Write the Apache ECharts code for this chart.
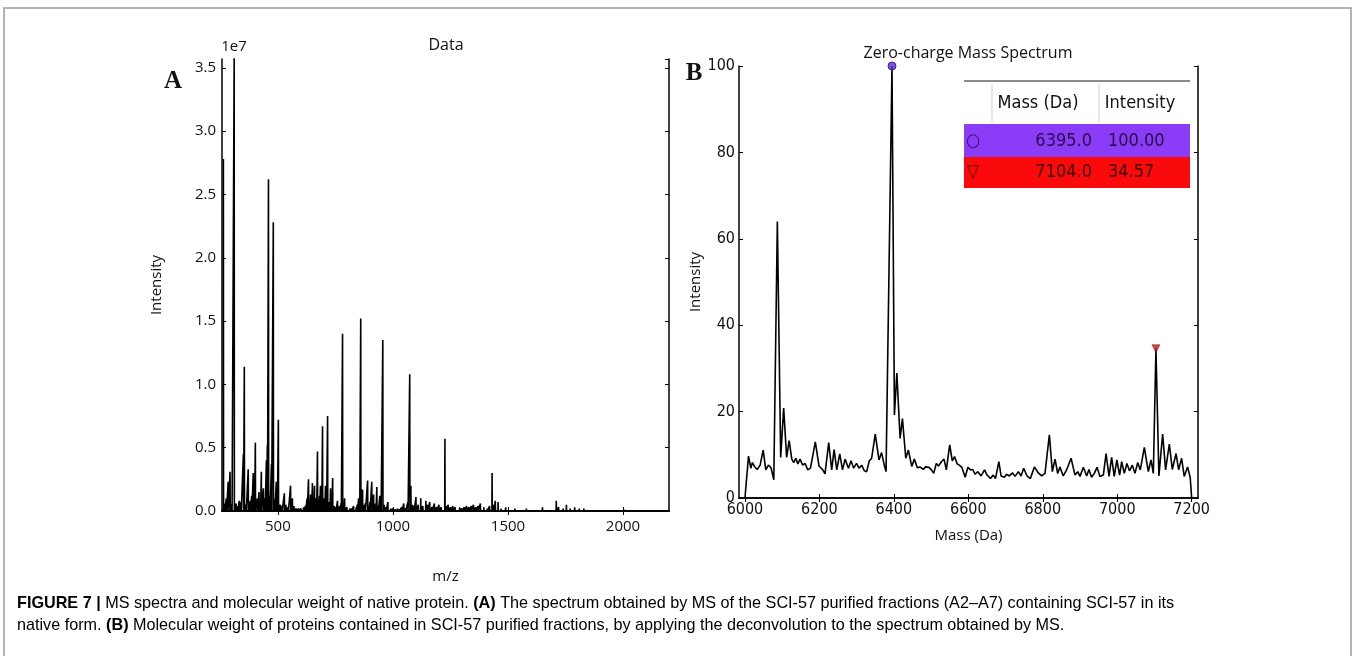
<!DOCTYPE html>
<html lang="en">
<head>
  <meta charset="UTF-8">
  <title>MS spectra</title>
  <script src="https://cdn.jsdelivr.net/npm/echarts@6/dist/echarts.min.js"></script>
  <style>
    html, body { margin: 0; padding: 0; background: #fff; }
    #main { width: 1355px; height: 656px; }
  </style>
</head>
<body>
  <div id="main"></div>
  <script>
    // panel A: m/z peaks (intensity in units of 1e7)
    var peaksA = [
      [263, 2.78], [284, 0.23], [292, 0.31], [310, 3.6], [332, 0.08], [350, 0.45], [354, 1.14],
      [371, 0.33], [393, 0.30], [402, 0.54], [411, 0.10], [428, 0.31], [437, 0.18], [450, 0.40],
      [454, 0.52], [459, 2.62], [472, 0.37], [480, 2.28], [493, 0.23], [502, 0.72], [528, 0.14],
      [555, 0.20], [563, 0.10], [611, 0.03], [633, 0.25], [642, 0.13], [650, 0.22], [659, 0.20],
      [672, 0.47], [685, 0.20], [694, 0.67], [707, 0.20], [716, 0.75], [729, 0.18], [738, 0.26],
      [759, 0.08], [781, 1.40], [790, 0.10], [829, 0.04], [851, 0.10], [860, 1.52], [868, 0.17],
      [890, 0.24], [908, 0.23], [916, 0.13], [930, 0.19], [943, 0.12], [956, 1.35], [978, 0.07],
      [1039, 0.03], [1047, 0.06], [1065, 0.07], [1073, 1.08], [1078, 0.20], [1100, 0.11],
      [1121, 0.10], [1143, 0.08], [1160, 0.07], [1180, 0.06], [1200, 0.05], [1226, 0.57],
      [1240, 0.05], [1260, 0.04], [1290, 0.03], [1320, 0.04], [1350, 0.05], [1380, 0.06],
      [1431, 0.30], [1445, 0.08], [1457, 0.07], [1490, 0.03], [1530, 0.02], [1580, 0.02],
      [1650, 0.03], [1710, 0.08], [1754, 0.05], [1790, 0.03], [1830, 0.02], [1900, 0.01], [2007, 0.01]
    ]
    // small peaks along the baseline
    var grassA = [
      [268, 0.06], [276, 0.1], [300, 0.05], [318, 0.06], [325, 0.04], [340, 0.07], [362, 0.05],
      [380, 0.08], [386, 0.12], [398, 0.06], [418, 0.15], [424, 0.08], [444, 0.1], [465, 0.12],
      [486, 0.09], [497, 0.1], [510, 0.05], [518, 0.04], [535, 0.05], [545, 0.03], [570, 0.04],
      [580, 0.02], [590, 0.02], [600, 0.02], [620, 0.04], [627, 0.1], [638, 0.07], [646, 0.09],
      [655, 0.08], [664, 0.1], [668, 0.06], [677, 0.09], [681, 0.12], [690, 0.08], [699, 0.1],
      [703, 0.07], [711, 0.09], [720, 0.07], [725, 0.05], [734, 0.06], [745, 0.04], [752, 0.03],
      [768, 0.04], [775, 0.06], [786, 0.05], [800, 0.03], [812, 0.02], [820, 0.02], [840, 0.03],
      [845, 0.05], [855, 0.06], [875, 0.05], [880, 0.06], [895, 0.04], [900, 0.07], [912, 0.05],
      [920, 0.06], [926, 0.05], [936, 0.04], [948, 0.05], [962, 0.05], [970, 0.03], [990, 0.02],
      [1000, 0.02], [1010, 0.01], [1020, 0.02], [1030, 0.01], [1055, 0.02], [1085, 0.05],
      [1092, 0.04], [1110, 0.05], [1130, 0.04], [1150, 0.05], [1170, 0.03], [1190, 0.03],
      [1210, 0.03], [1232, 0.04], [1250, 0.03], [1270, 0.03], [1300, 0.02], [1310, 0.03],
      [1330, 0.03], [1340, 0.04], [1360, 0.03], [1370, 0.04], [1395, 0.03], [1410, 0.02],
      [1420, 0.04], [1438, 0.05], [1470, 0.02], [1510, 0.01], [1560, 0.01], [1620, 0.01],
      [1680, 0.01], [1720, 0.03], [1740, 0.02], [1770, 0.02], [1810, 0.02], [1860, 0.01]
    ]
    var ticksA = [500, 1000, 1500, 2000]

    // panel B: zero-charge mass spectrum
    var massB = [6000, 6009.5, 6015.8, 6020, 6025.6, 6032.8, 6040.8, 6048.9, 6056, 6063, 6070, 6077.5,
      6087, 6096, 6104, 6112, 6118.7, 6125.8, 6131, 6136.6, 6142, 6148, 6155, 6161.6, 6168.8, 6176,
      6189, 6199, 6209, 6215, 6225, 6233, 6239.5, 6246.7, 6254.7, 6262, 6269, 6278, 6285, 6292,
      6299.6, 6306.6, 6313.5, 6320.6, 6327, 6334, 6340.3, 6350, 6360, 6367, 6374.3, 6379, 6395,
      6401.5, 6408, 6416.8, 6423, 6432, 6439, 6448, 6455, 6463, 6470, 6479, 6485, 6494, 6501, 6507,
      6514, 6520, 6527.6, 6534.7, 6541, 6550, 6557, 6563, 6570, 6576, 6582.6, 6591.6, 6598.7, 6606,
      6612, 6618, 6625.6, 6634.5, 6643.5, 6650.6, 6659.6, 6666.7, 6673, 6682, 6688, 6697, 6703, 6710,
      6719, 6725.6, 6734.5, 6741.7, 6748.8, 6757.7, 6766.7, 6777.4, 6788, 6797, 6806, 6817.7, 6825.7,
      6833, 6840, 6846, 6855, 6864, 6876, 6886.6, 6894, 6900, 6909, 6918, 6924, 6931, 6938.5, 6945.7,
      6953.7, 6962.7, 6970, 6978, 6985, 6992, 6999, 7006.5, 7012, 7019, 7026, 7033, 7040.5, 7047.7,
      7055, 7062, 7072.8, 7083.5, 7090.7, 7097, 7104, 7112, 7122, 7130, 7140, 7148, 7158, 7165, 7173,
      7180, 7189, 7196, 7200]
    var intB = [0, 9.7, 6.9, 8.2, 7.3, 6.6, 7.6, 11.1, 6.5, 7.6, 7.0, 4.2,
      64, 9.4, 20.8, 9.4, 13.3, 9.0, 8.2, 9.2, 7.9, 9.0, 7.6, 8.0, 6.5, 6.9,
      13.0, 7.4, 6.5, 5.6, 12.8, 6.5, 11.2, 6.5, 10.2, 6.5, 9.0, 6.9, 8.6, 6.9,
      8.0, 6.9, 7.6, 6.3, 6.1, 8.6, 9.2, 14.8, 8.8, 10.5, 7.6, 6.1, 100,
      19.2, 28.9, 13.8, 18.4, 9.2, 11.1, 7.3, 9.0, 7.0, 7.2, 6.6, 7.2, 7.1, 6.5, 5.7,
      8.0, 7.4, 8.4, 9.0, 6.5, 12.3, 8.6, 9.6, 7.9, 7.6, 7.1, 4.8, 7.1, 6.5,
      6.6, 5.5, 6.1, 5.1, 6.5, 5.3, 4.5, 5.3, 4.5, 8.4, 5.1, 4.8, 5.5, 5.1,
      5.8, 5.0, 6.1, 5.1, 6.9, 5.1, 4.5, 7.2, 5.8, 5.1, 5.7, 14.6, 6.1,
      9.0, 5.7, 7.2, 5.1, 6.5, 9.2, 5.3, 6.1, 5.0, 7.1, 5.1, 6.6, 4.8, 5.7, 7.1,
      5.0, 5.3, 10.3, 5.0, 9.4, 5.0, 8.8, 5.3, 8.4, 5.7, 8.0, 6.3, 7.6, 5.7,
      8.2, 6.5, 11.7, 6.1, 8.8, 5.7, 34.57, 5.1, 14.8, 6.5, 12.5, 6.6, 10.3, 6.5, 9.2,
      5.0, 7.2, 4.8, 0]
    var ticksB = [6000, 6200, 6400, 6600, 6800, 7000, 7200]
    // picked peaks shown in the table
    var markMass = [6395.0, 7104.0]
    var markInt = [100.00, 34.57]

    var mCharts = echarts.init(document.getElementById('main'), null, { renderer: 'canvas' })

    // sticks: each peak goes up from 0 and back down
    var stickData = []
    peaksA.concat(grassA).sort(function (a, b) { return a[0] - b[0] }).forEach(function (p) {
      stickData.push([p[0] - 0.8, 0], [p[0], p[1]], [p[0] + 0.8, 0])
    })
    var lineB = massB.map(function (m, i) { return [m, intB[i]] })

    var plain = function (v) { return String(v) }
    var tickFont = { fontFamily: 'Open Sans', fontSize: 15, color: '#111' }
    var nameFont = { fontFamily: 'Open Sans', fontSize: 15, color: '#111' }
    var narrowFont = { fontFamily: "'Liberation Sans Narrow', 'DejaVu Sans Condensed', 'Liberation Sans'", fontSize: 16, color: '#111' }
    var spine = { show: true, lineStyle: { color: '#000', width: 1.5 } }
    var inTick = { show: true, inside: true, length: 4, lineStyle: { color: '#000', width: 1 } }

    function cell(x, y, t, color, align) {
      return {
        type: 'text', x: x, y: y,
        style: { text: t, fill: color, font: "18px 'Liberation Sans Narrow', 'DejaVu Sans Condensed', 'Liberation Sans'", align: align || 'left', verticalAlign: 'middle' }
      }
    }

    var capFont = { fontFamily: 'Liberation Sans', fontSize: 16.2, color: '#3a3a3a', lineHeight: 22 }
    var capBold = { fontFamily: 'Liberation Sans', fontSize: 16.2, fontWeight: 'bold', color: '#1a1a1a', lineHeight: 22 }

    var option = {
      animation: false,
      backgroundColor: '#fff',
      grid: [
        { left: 222, top: 59, width: 447, height: 452, outerBoundsMode: 'none' },
        { left: 739, top: 66, width: 459, height: 432, outerBoundsMode: 'none' }
      ],
      xAxis: [
        {
          type: 'value', gridIndex: 0, min: 257, max: 2200, position: 'bottom',
          name: 'm/z', nameLocation: 'middle', nameGap: 58, nameTextStyle: nameFont,
          axisLine: { show: true, lineStyle: { color: '#000', width: 2 } },
          axisTick: Object.assign({ customValues: ticksA }, inTick),
          axisLabel: Object.assign({ customValues: ticksA, margin: 8, formatter: plain }, tickFont),
          splitLine: { show: false }
        },
        {
          type: 'value', gridIndex: 0, min: 257, max: 2200, position: 'top',
          axisLine: spine, axisTick: Object.assign({ customValues: ticksA }, inTick),
          axisLabel: { show: false }, splitLine: { show: false }
        },
        {
          type: 'value', gridIndex: 1, min: 5984, max: 7217, position: 'bottom',
          name: 'Mass (Da)', nameLocation: 'middle', nameGap: 30, nameTextStyle: nameFont,
          axisLine: spine, axisTick: Object.assign({ customValues: ticksB }, inTick),
          axisLabel: Object.assign({ customValues: ticksB, margin: 4, formatter: plain }, narrowFont),
          splitLine: { show: false }
        },
        {
          type: 'value', gridIndex: 1, min: 5984, max: 7217, position: 'top',
          axisLine: spine, axisTick: Object.assign({ customValues: ticksB }, inTick),
          axisLabel: { show: false }, splitLine: { show: false }
        }
      ],
      yAxis: [
        {
          type: 'value', gridIndex: 0, min: 0, max: 3.57, interval: 0.5, position: 'left',
          name: 'Intensity', nameLocation: 'middle', nameGap: 58, nameTextStyle: nameFont,
          axisLine: spine, axisTick: inTick,
          axisLabel: Object.assign({ formatter: function (v) { return v.toFixed(1) }, margin: 6 }, tickFont),
          splitLine: { show: false }
        },
        {
          type: 'value', gridIndex: 0, min: 0, max: 3.57, interval: 0.5, position: 'right',
          axisLine: spine, axisTick: inTick, axisLabel: { show: false }, splitLine: { show: false }
        },
        {
          type: 'value', gridIndex: 1, min: 0, max: 100, interval: 20, position: 'left',
          name: 'Intensity', nameLocation: 'middle', nameGap: 30, nameTextStyle: nameFont,
          axisLine: spine, axisTick: inTick,
          axisLabel: Object.assign({ margin: 4 }, narrowFont),
          splitLine: { show: false }
        },
        {
          type: 'value', gridIndex: 1, min: 0, max: 100, interval: 20, position: 'right',
          axisLine: spine, axisTick: inTick, axisLabel: { show: false }, splitLine: { show: false }
        }
      ],
      series: [
        {
          type: 'line', xAxisIndex: 0, yAxisIndex: 0, data: stickData,
          showSymbol: false, lineStyle: { color: '#000', width: 1.6 }
        },
        {
          type: 'line', xAxisIndex: 2, yAxisIndex: 2, data: lineB,
          showSymbol: false, lineStyle: { color: '#000', width: 1.6 }
        },
        {
          type: 'scatter', xAxisIndex: 2, yAxisIndex: 2, z: 5,
          data: [
            { value: [markMass[0], markInt[0]], symbol: 'circle', symbolSize: 8, itemStyle: { color: '#5a2bd6', borderColor: '#2a1070', borderWidth: 1 } },
            { value: [markMass[1], markInt[1]], symbol: 'triangle', symbolRotate: 180, symbolSize: 8, itemStyle: { color: '#c8101c', borderColor: '#700000', borderWidth: 0.5 } }
          ]
        }
      ],
      graphic: [
        // figure frame
        { type: 'polyline', shape: { points: [[4, 660], [4, 8], [1351, 8], [1351, 660]] }, style: { stroke: '#9a9a9a', lineWidth: 1.5, fill: null } },
        // panel letters and titles
        { type: 'text', x: 173, y: 82, style: { text: 'A', font: "bold 25px 'Liberation Serif'", fill: '#111', align: 'center', verticalAlign: 'middle' } },
        { type: 'text', x: 694, y: 74, style: { text: 'B', font: "bold 25px 'Liberation Serif'", fill: '#111', align: 'center', verticalAlign: 'middle' } },
        { type: 'text', x: 234, y: 47, style: { text: '1e7', font: "15px 'Open Sans'", fill: '#111', align: 'center', verticalAlign: 'middle' } },
        { type: 'text', x: 446, y: 45, style: { text: 'Data', font: "16px 'Open Sans'", fill: '#111', align: 'center', verticalAlign: 'middle' } },
        { type: 'text', x: 968, y: 53, style: { text: 'Zero-charge Mass Spectrum', font: "16px 'Open Sans'", fill: '#111', align: 'center', verticalAlign: 'middle' } },
        // peak table
        { type: 'line', shape: { x1: 964, y1: 81, x2: 1190, y2: 81 }, style: { stroke: '#8a8a8a', lineWidth: 2 } },
        { type: 'line', shape: { x1: 992, y1: 84, x2: 992, y2: 122 }, style: { stroke: '#cfcfcf', lineWidth: 1 } },
        { type: 'line', shape: { x1: 1099, y1: 84, x2: 1099, y2: 122 }, style: { stroke: '#cfcfcf', lineWidth: 1 } },
        cell(1038, 103, 'Mass (Da)', '#111', 'center'),
        cell(1140, 103, 'Intensity', '#111', 'center'),
        { type: 'rect', shape: { x: 964, y: 124, width: 226, height: 33 }, style: { fill: '#8b3cf7' } },
        { type: 'rect', shape: { x: 964, y: 157, width: 226, height: 31 }, style: { fill: '#fa0a0a' } },
        cell(973, 141, '○', '#3a1070', 'center'),
        cell(1092, 141, markMass[0].toFixed(1), '#2a0a48', 'right'),
        cell(1108, 141, markInt[0].toFixed(2), '#2a0a48', 'left'),
        cell(973, 172, '▽', '#6a0000', 'center'),
        cell(1092, 172, markMass[1].toFixed(1), '#3a0000', 'right'),
        cell(1108, 172, markInt[1].toFixed(2), '#3a0000', 'left'),
        // caption
        {
          type: 'text', x: 17, y: 604,
          style: {
            text: '{b|FIGURE 7 |}{n| MS spectra and molecular weight of native protein. }{b|(A)}{n| The spectrum obtained by MS of the SCI-57 purified fractions (A2–A7) containing SCI-57 in its}',
            verticalAlign: 'middle', rich: { b: capBold, n: capFont }
          }
        },
        {
          type: 'text', x: 17, y: 626,
          style: {
            text: '{n|native form. }{b|(B)}{n| Molecular weight of proteins contained in SCI-57 purified fractions, by applying the deconvolution to the spectrum obtained by MS.}',
            verticalAlign: 'middle', rich: { b: capBold, n: capFont }
          }
        }
      ]
    }
    mCharts.setOption(option)
    window.onresize = mCharts.resize
  </script>
</body>
</html>
